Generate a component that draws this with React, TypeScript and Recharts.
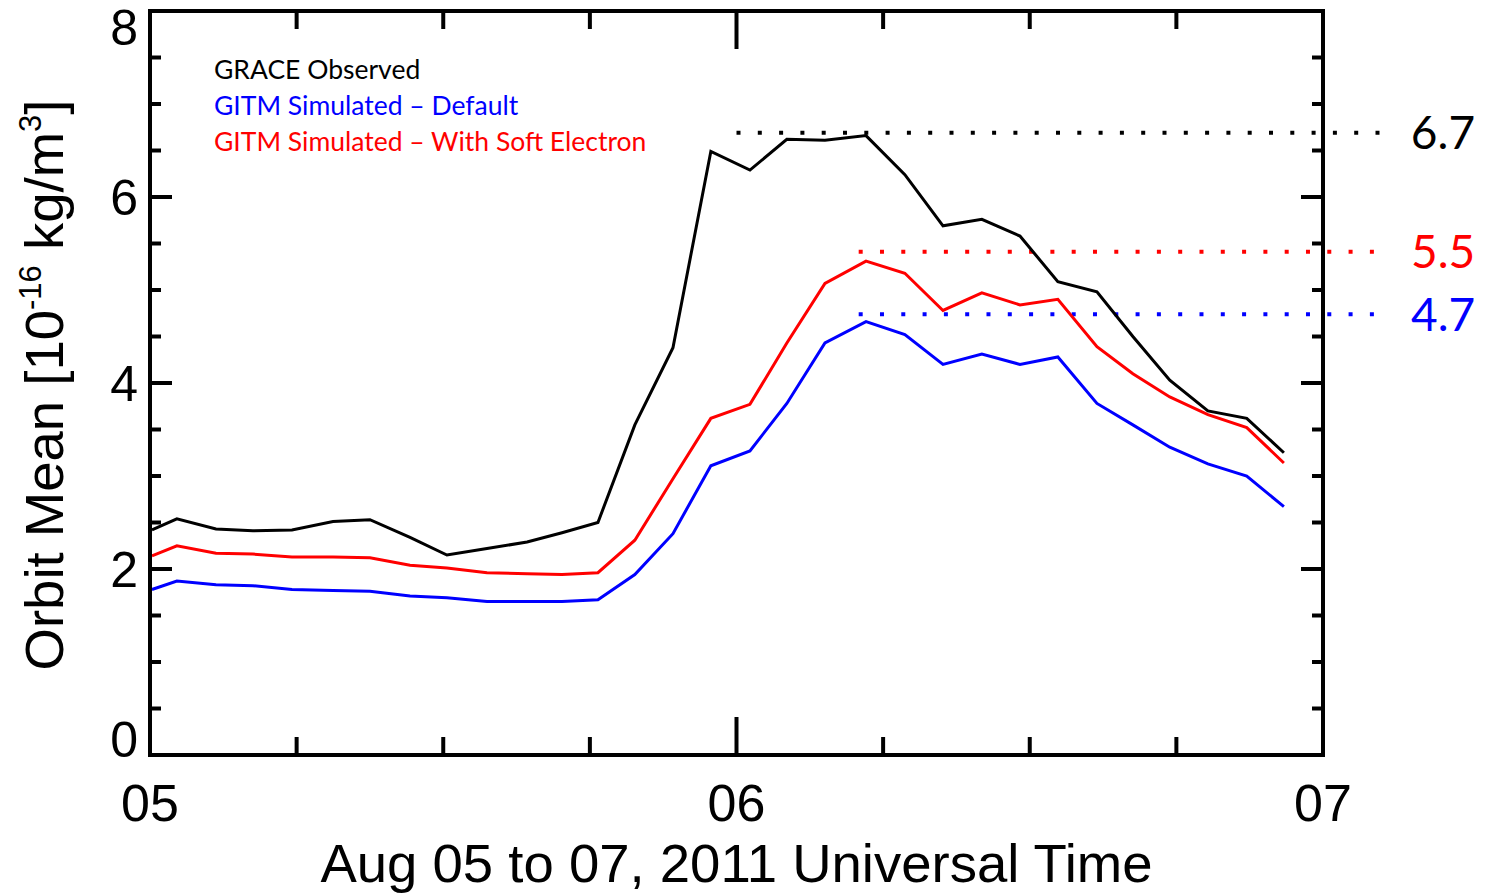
import { Legend, Line, LineChart, ReferenceLine, XAxis, YAxis } from "recharts";

// hours after 00 UT on Aug 05, one point per orbit
const hours = [
  0.08, 1.1, 2.7, 4.21, 5.81, 7.49, 9.0, 10.64, 12.15, 13.79, 15.43, 16.86, 18.33, 19.84, 21.4, 22.95,
  24.55, 26.06, 27.62, 29.3, 30.89, 32.45, 34.04, 35.6, 37.15, 38.75, 40.22, 41.73, 43.29, 44.88, 46.4,
];
const graceObserved = [
  2.42, 2.54, 2.43, 2.41, 2.42, 2.51, 2.53, 2.34, 2.15, 2.22, 2.29, 2.39, 2.5, 3.55, 4.38, 6.49,
  6.29, 6.62, 6.61, 6.66, 6.24, 5.69, 5.76, 5.58, 5.09, 4.98, 4.5, 4.03, 3.7, 3.62, 3.25,
];
const gitmDefault = [
  1.78, 1.87, 1.83, 1.82, 1.78, 1.77, 1.76, 1.71, 1.69, 1.65, 1.65, 1.65, 1.67, 1.94, 2.38, 3.11,
  3.27, 3.78, 4.43, 4.66, 4.52, 4.2, 4.31, 4.2, 4.28, 3.78, 3.55, 3.31, 3.13, 3.0, 2.67,
];
const gitmSoftElectron = [
  2.14, 2.25, 2.17, 2.16, 2.13, 2.13, 2.12, 2.04, 2.01, 1.96, 1.95, 1.94, 1.96, 2.31, 2.97, 3.62,
  3.77, 4.43, 5.07, 5.31, 5.18, 4.78, 4.97, 4.84, 4.9, 4.39, 4.1, 3.85, 3.66, 3.52, 3.14,
];

const seriesNames = ["GRACE Observed", "GITM Simulated – Default", "GITM Simulated – With Soft Electron"];

const hourTicks = [0, 6, 12, 18, 24, 30, 36, 42, 48];
const dayLabels: Record<number, string> = { 0: "05", 24: "06", 48: "07" };
const densityTicks = [0, 0.5, 1, 1.5, 2, 2.5, 3, 3.5, 4, 4.5, 5, 5.5, 6, 6.5, 7, 7.5, 8];
const densityLabels = [0, 2, 4, 6, 8];

// dotted peak markers
const peakLevels = [6.69, 5.41, 4.74];
const peakLabels = ["6.7", "5.5", "4.7"];
const peakStarts = [24.0, 29.0, 29.0];
const peakEnds = [50.45, 50.25, 50.25];
const peakColors = ["#000000", "#ff0000", "#0000ff"];
const peakOffsets = [28, 33, 33];

const rows = hours.map((t, i) => ({
  t,
  grace: graceObserved[i],
  def: gitmDefault[i],
  soft: gitmSoftElectron[i],
}));

const AXIS_FONT = "'Liberation Sans', Arial, Helvetica, sans-serif";
const NOTE_FONT = "Lato, 'Open Sans', sans-serif";

function BottomTick(props: any) {
  const { x, y, payload } = props;
  const major = payload.value % 24 === 0;
  return (
    <g>
      <line x1={x} x2={x} y1={y} y2={y - (major ? 38 : 18)} stroke="#000" strokeWidth={4} />
      {major && (
        <text x={x} y={y + 66} textAnchor="middle" fontSize={52} fontFamily={AXIS_FONT} fill="#000">
          {dayLabels[payload.value]}
        </text>
      )}
    </g>
  );
}

function TopTick(props: any) {
  const { x, y, payload } = props;
  const major = payload.value % 24 === 0;
  return <line x1={x} x2={x} y1={y} y2={y + (major ? 38 : 18)} stroke="#000" strokeWidth={4} />;
}

function LeftTick(props: any) {
  const { x, y, payload } = props;
  const v = payload.value;
  const major = densityLabels.includes(v);
  // end labels are pulled inside the frame
  const shift = v === 8 ? 16 : v === 0 ? -16 : 0;
  return (
    <g>
      <line x1={x} x2={x + (major ? 22 : 11)} y1={y} y2={y} stroke="#000" strokeWidth={4} />
      {major && (
        <text x={x - 12} y={y + shift + 18} textAnchor="end" fontSize={50} fontFamily={AXIS_FONT} fill="#000">
          {v}
        </text>
      )}
    </g>
  );
}

function RightTick(props: any) {
  const { x, y, payload } = props;
  const major = densityLabels.includes(payload.value);
  return <line x1={x} x2={x - (major ? 22 : 11)} y1={y} y2={y} stroke="#000" strokeWidth={4} />;
}

function YTitle(props: any) {
  const { viewBox } = props;
  const cx = viewBox.x + 63;
  const cy = viewBox.y + viewBox.height / 2 + 2;
  return (
    <text
      x={cx}
      y={cy}
      transform={`rotate(-90, ${cx}, ${cy})`}
      textAnchor="middle"
      fontSize={54.5}
      fontFamily={AXIS_FONT}
      fill="#000"
    >
      Orbit Mean [10
      <tspan dy={-22} fontSize={31}>
        -16
      </tspan>
      <tspan dy={22}> kg/m</tspan>
      <tspan dy={-22} fontSize={31}>
        3
      </tspan>
      <tspan dy={22}>]</tspan>
    </text>
  );
}

function XTitle(props: any) {
  const { viewBox } = props;
  return (
    <text
      x={viewBox.x + viewBox.width / 2}
      y={viewBox.y + 127}
      textAnchor="middle"
      fontSize={54.5}
      fontFamily={AXIS_FONT}
      fill="#000"
    >
      Aug 05 to 07, 2011 Universal Time
    </text>
  );
}

function LegendBlock({ payload }: any) {
  const items = (payload || [])
    .filter((p: any) => seriesNames.includes(p.value))
    .sort((a: any, b: any) => seriesNames.indexOf(a.value) - seriesNames.indexOf(b.value));
  return (
    <div style={{ fontFamily: NOTE_FONT, fontSize: 26.5, lineHeight: "36px", whiteSpace: "nowrap" }}>
      {items.map((p: any) => (
        <div key={p.value} style={{ color: p.color }}>
          {p.value}
        </div>
      ))}
    </div>
  );
}

const axisLine = { stroke: "#000", strokeWidth: 4, strokeLinecap: "square" as const };

export default function App() {
  return (
    <div style={{ position: "absolute", left: 0, top: 0, width: 1486, height: 893, background: "#fff" }}>
      <LineChart width={1486} height={893} data={rows} margin={{ top: 10, right: 162, bottom: 0, left: 0 }}>
        <XAxis
          xAxisId="b"
          dataKey="t"
          type="number"
          domain={[0, 48]}
          ticks={hourTicks}
          interval={0}
          height={138}
          tickSize={0}
          tickMargin={0}
          tickLine={false}
          tick={BottomTick}
          axisLine={axisLine}
          label={XTitle}
        />
        <XAxis
          xAxisId="t"
          dataKey="t"
          orientation="top"
          type="number"
          domain={[0, 48]}
          allowDataOverflow
          ticks={hourTicks}
          interval={0}
          height={1}
          tickSize={0}
          tickMargin={0}
          tickLine={false}
          tick={TopTick}
          axisLine={axisLine}
        />
        <YAxis
          yAxisId="l"
          type="number"
          domain={[0, 8]}
          ticks={densityTicks}
          interval={0}
          width={150}
          tickSize={0}
          tickMargin={0}
          tickLine={false}
          tick={LeftTick}
          axisLine={axisLine}
          label={YTitle}
        />
        <YAxis
          yAxisId="r"
          orientation="right"
          type="number"
          domain={[0, 8]}
          allowDataOverflow
          ticks={densityTicks}
          interval={0}
          width={1}
          tickSize={0}
          tickMargin={0}
          tickLine={false}
          tick={RightTick}
          axisLine={axisLine}
        />
        <Legend
          layout="horizontal"
          align="center"
          verticalAlign="middle"
          content={LegendBlock}
          wrapperStyle={{ left: 214, top: 51, width: 520 }}
        />
        {peakLevels.map((lvl, i) => (
          <ReferenceLine
            key={peakLabels[i]}
            xAxisId="b"
            yAxisId="l"
            segment={[
              { x: peakStarts[i], y: lvl },
              { x: peakEnds[i], y: lvl },
            ]}
            ifOverflow="visible"
            stroke={peakColors[i]}
            strokeWidth={4}
            strokeDasharray="4 17.3"
            label={{
              value: peakLabels[i],
              position: "right",
              offset: peakOffsets[i],
              fill: peakColors[i],
              fontSize: 46,
              fontFamily: NOTE_FONT,
            }}
          />
        ))}
        {/* invisible copy that ties the frame axes (top / right) to the data */}
        <Line
          xAxisId="t"
          yAxisId="r"
          dataKey="grace"
          stroke="none"
          legendType="none"
          dot={false}
          activeDot={false}
          isAnimationActive={false}
        />
        <Line
          xAxisId="b"
          yAxisId="l"
          dataKey="grace"
          name={seriesNames[0]}
          type="linear"
          stroke="#000000"
          strokeWidth={3}
          dot={false}
          activeDot={false}
          isAnimationActive={false}
        />
        <Line
          xAxisId="b"
          yAxisId="l"
          dataKey="def"
          name={seriesNames[1]}
          type="linear"
          stroke="#0000ff"
          strokeWidth={3}
          dot={false}
          activeDot={false}
          isAnimationActive={false}
        />
        <Line
          xAxisId="b"
          yAxisId="l"
          dataKey="soft"
          name={seriesNames[2]}
          type="linear"
          stroke="#ff0000"
          strokeWidth={3}
          dot={false}
          activeDot={false}
          isAnimationActive={false}
        />
      </LineChart>
    </div>
  );
}
